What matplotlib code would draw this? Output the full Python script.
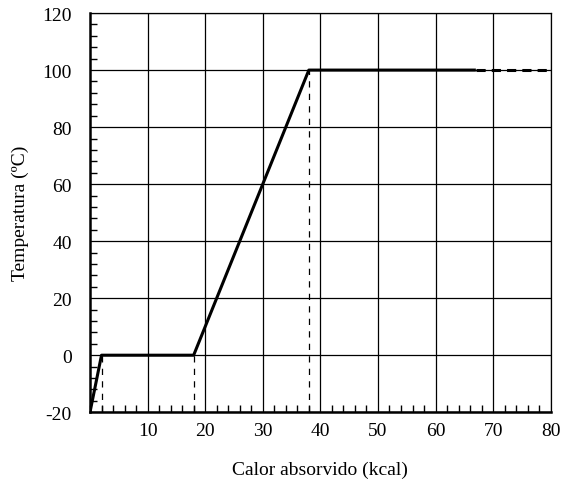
import matplotlib.pyplot as plt
from matplotlib.ticker import MultipleLocator

plt.rcParams['font.family'] = ['Liberation Serif', 'DejaVu Serif']
plt.rcParams['axes.unicode_minus'] = False

# heating curve of water
calor = [0, 2, 18, 38, 67]
temp = [-20, 0, 0, 100, 100]
calor_ext = [67, 80]
temp_ext = [100, 100]
cambios = [2, 18, 38]
temp_cambios = [0, 0, 100]

x_ticks = [10, 20, 30, 40, 50, 60, 70, 80]
y_ticks = [-20, 0, 20, 40, 60, 80, 100, 120]

fig = plt.figure(figsize=(5.66, 4.85), dpi=100)
ax = fig.add_axes([0.159, 0.148, 0.814, 0.823])

ax.plot(calor, temp, color='black', lw=2.2, solid_capstyle='butt', zorder=3)
ax.plot(calor_ext, temp_ext, color='black', lw=2.2, ls=(0, (3, 2)), zorder=3)
for xc, yc in zip(cambios, temp_cambios):
    ax.plot([xc, xc], [-20, yc], color='black', lw=0.9, ls=(0, (5, 5)), zorder=2)

ax.set_xlim(0, 80)
ax.set_ylim(-20, 120)
ax.set_xticks(x_ticks)
ax.set_yticks(y_ticks)
ax.xaxis.set_minor_locator(MultipleLocator(2))
ax.yaxis.set_minor_locator(MultipleLocator(4))
ax.tick_params(which='both', direction='in', labelsize=14, colors='black')
ax.tick_params(axis='y', which='major', length=0, pad=13)
ax.tick_params(axis='x', which='major', length=0, pad=7)
ax.tick_params(which='minor', length=5, width=1)
ax.grid(True, which='major', color='black', lw=0.9)

for s in ['top', 'right']:
    ax.spines[s].set_linewidth(0.9)
for s in ['left', 'bottom']:
    ax.spines[s].set_linewidth(1.8)

ax.set_xlabel("Calor absorvido (kcal)", fontsize=14, labelpad=16)
ax.set_ylabel("Temperatura (ºC)", fontsize=14, labelpad=10)

fig.savefig("out.png", dpi=100)
